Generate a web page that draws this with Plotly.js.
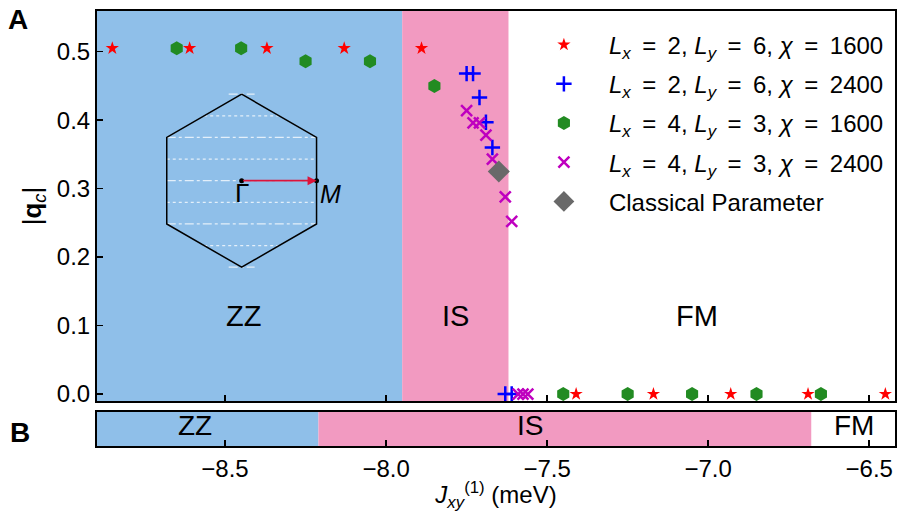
<!DOCTYPE html>
<html><head><meta charset="utf-8">
<script src="https://cdn.plot.ly/plotly-3.0.1.min.js"></script>
<style>body{margin:0;background:#fff}</style>
</head><body><div id="chart" style="width:897px;height:512px"></div>
<script>
// ---- data ----
const red1600X = [-8.85,-8.61,-8.37,-8.13,-7.89,-7.41,-7.17,-6.93,-6.69,-6.45];
const red1600Y = [0.505,0.505,0.505,0.505,0.505,0,0,0,0,0];
const blue2400X = [-7.75,-7.73,-7.71,-7.69,-7.67,-7.63,-7.61];
const blue2400Y = [0.468,0.468,0.433,0.397,0.360,0,0];
const green1600X = [-8.65,-8.45,-8.25,-8.05,-7.85,-7.45,-7.25,-7.05,-6.85,-6.65];
const green1600Y = [0.505,0.505,0.486,0.486,0.450,0,0,0,0,0];
const mag2400X = [-7.75,-7.73,-7.71,-7.69,-7.67,-7.63,-7.61,-7.59,-7.575,-7.56];
const mag2400Y = [0.414,0.396,0.396,0.378,0.343,0.288,0.252,0,0,0];
const classicalX = [-7.65];
const classicalY = [0.325];

const phaseNames = ['ZZ','IS','FM'];
const boundsA = [-8.95,-7.95,-7.62,-6.3];
const boundsB = [-8.95,-8.21,-6.68,-6.3];
const labelAX = [-8.444,-7.786,-7.034];
const labelBX = [-8.593,-7.553,-6.547];
const xTicks = [-8.5,-8.0,-7.5,-7.0,-6.5];
const yTicks = [0.0,0.1,0.2,0.3,0.4,0.5];
const phaseColors = ['#8fbfe9','#f29ac1','rgba(255,255,255,0)'];

const EQ = '\u2009=\u2009';
const seriesNames = [
  '<i>L</i><sub><i>x</i></sub> '+EQ+' 2, <i>L</i><sub><i>y</i></sub> '+EQ+' 6, <i>χ</i> '+EQ+' 1600',
  '<i>L</i><sub><i>x</i></sub> '+EQ+' 2, <i>L</i><sub><i>y</i></sub> '+EQ+' 6, <i>χ</i> '+EQ+' 2400',
  '<i>L</i><sub><i>x</i></sub> '+EQ+' 4, <i>L</i><sub><i>y</i></sub> '+EQ+' 3, <i>χ</i> '+EQ+' 1600',
  '<i>L</i><sub><i>x</i></sub> '+EQ+' 4, <i>L</i><sub><i>y</i></sub> '+EQ+' 3, <i>χ</i> '+EQ+' 2400',
  'Classical Parameter'
];

const FONT = 'Liberation Sans, Arial, sans-serif';

// ---- inset (Brillouin-zone sketch) geometry, unit hexagon ----
const hexAngles = [90,150,210,270,330,30,90];
const hexX = hexAngles.map(a => Math.cos(a*Math.PI/180));
const hexY = hexAngles.map(a => Math.sin(a*Math.PI/180));
const cutLevels = [-4,-3,-2,-1,0,1,2,3,4];
function halfWidth(k){
  const y = Math.abs(k/4);
  if (Math.abs(k) === 4) return 0.15;
  return y <= 0.5 ? Math.sqrt(3)/2 : (1-y)*Math.sqrt(3);
}
const dashX=[],dashY=[],dotX=[],dotY=[];
cutLevels.forEach(k=>{
  const w = halfWidth(k), tx = (k%2===0)?dashX:dotX, ty=(k%2===0)?dashY:dotY;
  tx.push(-w,w,null); ty.push(k/4,k/4,null);
});
const mX = Math.sqrt(3)/2;

const traces = [
  {x:red1600X,y:red1600Y,xaxis:'x2',yaxis:'y2',mode:'markers',name:seriesNames[0],legendgroup:'a',
   marker:{symbol:'star',size:10,color:'#ff0000'}},
  {x:blue2400X,y:blue2400Y,xaxis:'x2',yaxis:'y2',mode:'markers',name:seriesNames[1],legendgroup:'b',
   marker:{symbol:'cross-thin',size:11,color:'#0000ff',line:{color:'#0000ff',width:2.5}}},
  {x:green1600X,y:green1600Y,xaxis:'x2',yaxis:'y2',mode:'markers',name:seriesNames[2],legendgroup:'c',
   marker:{symbol:'hexagon',size:14,color:'#228b22'}},
  {x:mag2400X,y:mag2400Y,xaxis:'x2',yaxis:'y2',mode:'markers',name:seriesNames[3],legendgroup:'d',
   marker:{symbol:'x-thin',size:11,color:'#bf00bf',line:{color:'#bf00bf',width:2.5}}},
  {x:classicalX,y:classicalY,xaxis:'x2',yaxis:'y2',mode:'markers',name:seriesNames[4],legendgroup:'e',
   marker:{symbol:'diamond',size:17,color:'#696969'}},
  // inset
  {x:dashX,y:dashY,xaxis:'x3',yaxis:'y3',mode:'lines',showlegend:false,hoverinfo:'skip',
   line:{color:'rgba(255,255,255,0.75)',width:1.2,dash:'dashdot'}},
  {x:dotX,y:dotY,xaxis:'x3',yaxis:'y3',mode:'lines',showlegend:false,hoverinfo:'skip',
   line:{color:'rgba(255,255,255,0.75)',width:1.2,dash:'dot'}},
  {x:hexX,y:hexY,xaxis:'x3',yaxis:'y3',mode:'lines',showlegend:false,hoverinfo:'skip',
   line:{color:'#000',width:1.5}},
  {x:[0,mX],y:[0,0],xaxis:'x3',yaxis:'y3',mode:'markers',showlegend:false,hoverinfo:'skip',
   marker:{size:5,color:'#000'}}
];

const shapes = [];
phaseNames.forEach((p,i)=>{
  shapes.push({type:'rect',xref:'x2',yref:'y2 domain',x0:boundsA[i],x1:boundsA[i+1],y0:0,y1:1,
    fillcolor:phaseColors[i],line:{width:0},layer:'below'});
  shapes.push({type:'rect',xref:'x',yref:'y domain',x0:boundsB[i],x1:boundsB[i+1],y0:0,y1:1,
    fillcolor:phaseColors[i],line:{width:0},layer:'below'});
});

const annotations = [];
phaseNames.forEach((p,i)=>{
  annotations.push({x:labelAX[i],y:0.114,xref:'x2',yref:'y2',text:p,showarrow:false,
    font:{family:FONT,size:29,color:'#000'}});
  annotations.push({x:labelBX[i],y:0.6,xref:'x',yref:'y',text:p,showarrow:false,
    font:{family:FONT,size:28,color:'#000'}});
});
annotations.push({x:-0.099,y:0.98,xref:'paper',yref:'paper',xanchor:'center',yanchor:'middle',
  text:'<b>A</b>',showarrow:false,font:{family:FONT,size:28,color:'#000'}});
annotations.push({x:-0.096,y:0.032,xref:'paper',yref:'paper',xanchor:'center',yanchor:'middle',
  text:'<b>B</b>',showarrow:false,font:{family:FONT,size:28,color:'#000'}});
annotations.push({x:mX,y:0,ax:0,ay:0,xref:'x3',yref:'y3',axref:'x3',ayref:'y3',text:'',showarrow:true,
  arrowhead:2,arrowsize:1,arrowwidth:1.8,arrowcolor:'#dc143c',standoff:0,startstandoff:0});
annotations.push({x:0,y:-0.14,xref:'x3',yref:'y3',text:'Γ',showarrow:false,
  font:{family:FONT,size:26,color:'#000'}});
annotations.push({x:1.03,y:-0.15,xref:'x3',yref:'y3',text:'<i>M</i>',showarrow:false,
  font:{family:FONT,size:25,color:'#000'}});

const axisCommon = {showline:true,linecolor:'#000',linewidth:2,mirror:true,showgrid:false,zeroline:false,
  ticks:'inside',ticklen:6,tickwidth:1.5,tickcolor:'#000',tickfont:{family:FONT,size:24,color:'#000'}};

const layout = {
  width:897,height:512,
  margin:{l:97,r:2,t:11,b:66},
  paper_bgcolor:'#fff',plot_bgcolor:'rgba(0,0,0,0)',
  font:{family:FONT,color:'#000'},
  showlegend:true,
  legend:{x:0.5287,y:0.9735,xanchor:'left',yanchor:'top',bgcolor:'rgba(0,0,0,0)',itemwidth:80,
    font:{family:FONT,size:24,color:'#000'},tracegroupgap:5,traceorder:'grouped'},
  xaxis:Object.assign({},axisCommon,{domain:[0,1],anchor:'y',range:[-8.8975,-6.42],
    tickvals:xTicks,tickformat:'.1f',
    title:{text:'<i>J</i><sub><i>xy</i></sub><sup>(1)</sup> (meV)',font:{family:FONT,size:24,color:'#000'},standoff:0}}),
  yaxis:Object.assign({},axisCommon,{domain:[0,0.0782],anchor:'x',range:[0,1],ticks:'',showticklabels:false}),
  xaxis2:Object.assign({},axisCommon,{domain:[0,1],anchor:'y2',matches:'x',range:[-8.8975,-6.42],
    tickvals:xTicks,showticklabels:false}),
  yaxis2:Object.assign({},axisCommon,{domain:[0.1034,1],anchor:'x2',range:[-0.0102,0.5594],
    tickvals:yTicks,tickformat:'.1f',
    title:{text:'|<b>q</b><sub><i>c</i></sub>|',font:{family:FONT,size:26,color:'#000'},standoff:8}}),
  xaxis3:{domain:[0.0664,0.2982],anchor:'y3',range:[-1.060,1.079],visible:false,fixedrange:true},
  yaxis3:{domain:[0.3931,0.8299],anchor:'x3',range:[-1.090,1.106],visible:false,fixedrange:true},
  shapes:shapes,
  annotations:annotations
};

Plotly.newPlot('chart',traces,layout,{displayModeBar:false,staticPlot:true});
</script></body></html>
